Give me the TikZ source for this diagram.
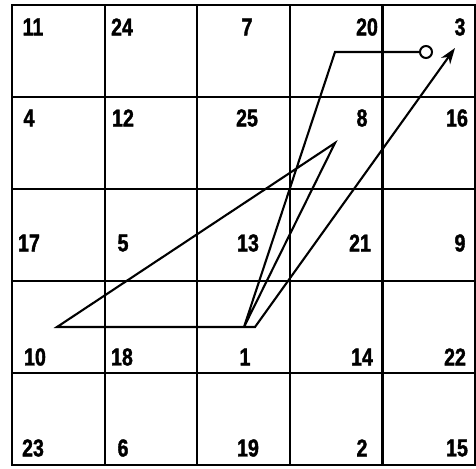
\documentclass[tikz,border=0pt]{standalone}
\usepackage{fontspec}
\newfontfamily\cellfont[FakeStretch=0.8,FakeBold=1.5]{Liberation Sans Bold}
\usetikzlibrary{arrows.meta}
\tikzset{
  cellnum/.style={font=\cellfont\fontsize{24.5}{25}\selectfont, inner sep=0pt},
  gridline/.style={line width=2.2pt},
  tour/.style={line width=2.1pt, line join=miter},
  tourarrow/.style={tour, -{Stealth[length=16pt,width=11pt,inset=5pt]}},
  startdot/.style={circle, draw, line width=2pt, fill=white, minimum size=12pt, inner sep=0pt}
}

\begin{document}
\begin{tikzpicture}[x=1pt, y=-1pt]
\useasboundingbox (0,0) rectangle (476,468);

% 5x5 grid
\draw[gridline] (12,5) rectangle (475,465);
\foreach \i in {1,...,4} {
  \draw[gridline] ({12+92.6*\i},5) -- ({12+92.6*\i},465);
  \draw[gridline] (12,{5+92*\i}) -- (475,{5+92*\i});
}

% cell numbers
\foreach \v/\x/\y in {11/33/27, 24/122/27, 7/247/27, 20/367/27, 3/460/27,
                      4/29/118, 12/123/118, 25/247/118, 8/362/118, 16/457/118,
                      17/29/243, 5/123/243, 13/248/243, 21/360/243, 9/460/243,
                      10/35/357, 18/122/357, 1/245/357, 14/362/357, 22/455/357,
                      23/33/448, 6/123/448, 19/248/448, 2/362/448, 15/457/448}
  \node[cellnum] (n\v) at (\x,\y) {\v};

% the path
\node[startdot] (start) at (426,52) {};
\coordinate (a) at (335,52);
\coordinate (b) at (244,327);
\coordinate (c) at (335,143);
\coordinate (d) at (57,327);
\coordinate (e) at (255,327);
\coordinate (tip) at (455,48);
\draw[tourarrow] (start.west) -- (a) -- (b) -- (c) -- (d) -- (e) -- (tip);
\end{tikzpicture}
\end{document}
